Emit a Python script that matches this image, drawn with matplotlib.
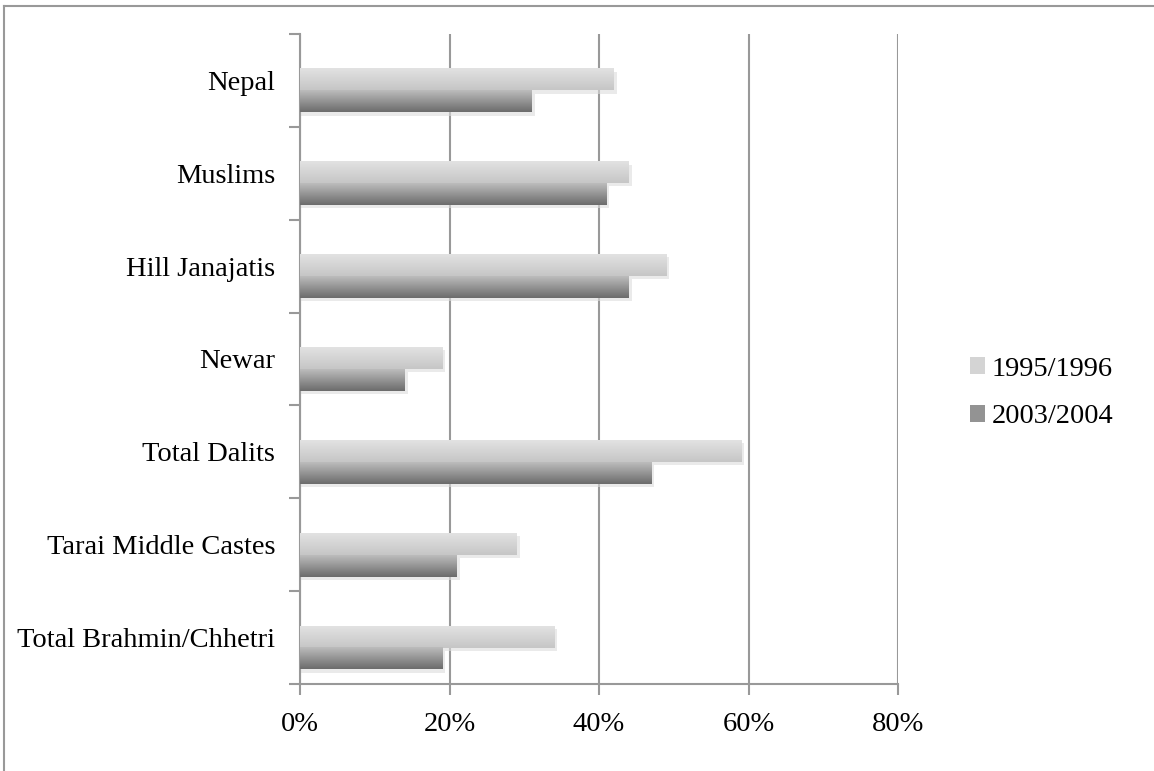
import numpy as np
import matplotlib.pyplot as plt
from matplotlib.patches import Patch
from matplotlib.lines import Line2D

# categories bottom -> top
categories = ["Total Brahmin/Chhetri", "Tarai Middle Castes", "Total Dalits",
              "Newar", "Hill Janajatis", "Muslims", "Nepal"]
y1995 = [34, 29, 59, 19, 49, 44, 42]
y2003 = [19, 21, 47, 14, 44, 41, 31]
series = ["1995/1996", "2003/2004"]
xticks = [0, 20, 40, 60, 80]

plt.rcParams['font.family'] = ['Liberation Serif', 'DejaVu Serif']
fs = 20.5

fig = plt.figure(figsize=(11.54, 7.71), dpi=100)
ax = fig.add_axes([300/1154, 1 - 684/771, 598/1154, 650/771])

grad = np.linspace(0, 1, 50).reshape(-1, 1)
light = plt.cm.colors.LinearSegmentedColormap.from_list("l", ["#c6c6c6", "#e2e2e2"])
dark = plt.cm.colors.LinearSegmentedColormap.from_list("d", ["#6c6c6c", "#bcbcbc"])

h = 0.236
off = -0.107
for i in range(len(categories)):
    for val, c, cm in [(y1995[i], off + h / 2, light), (y2003[i], off - h / 2, dark)]:
        y0, y1 = i + c - h / 2, i + c + h / 2
        # soft shadow
        ax.barh(i + c - 0.035, val + 0.4, height=h, left=0, color="#dcdcdc",
                alpha=0.6, zorder=2, linewidth=0)
        ax.imshow(grad, extent=(0, val, y0, y1), origin="lower", cmap=cm,
                  aspect="auto", zorder=3, interpolation="bilinear")

ax.set_xlim(0, 80)
ax.set_ylim(-0.5, len(categories) - 0.5)
ax.set_xticks(xticks)
ax.set_xticklabels([f"{t}%" for t in xticks])
ax.set_yticks(np.arange(len(categories)))
ax.set_yticklabels(categories)
ax.set_yticks(np.arange(len(categories) + 1) - 0.5, minor=True)
ax.tick_params(axis="y", which="major", length=0, pad=18, labelsize=fs)
ax.tick_params(axis="y", which="minor", length=8, width=1.5, color="#999999", direction="out")
ax.tick_params(axis="x", length=8, width=1.5, color="#999999", direction="out",
               labelsize=fs, pad=12)
ax.grid(axis="x", color="#999999", linewidth=1.5, zorder=1)
ax.set_axisbelow(True)
for s in ["top", "right"]:
    ax.spines[s].set_visible(False)
for s in ["left", "bottom"]:
    ax.spines[s].set_color("#999999")
    ax.spines[s].set_linewidth(1.5)

handles = [Patch(facecolor="#d4d4d4", edgecolor="none"),
           Patch(facecolor="#939393", edgecolor="none")]
fig.legend(handles, series, loc="center left", bbox_to_anchor=(970/1154, 1 - 393/771),
           frameon=False, fontsize=fs, handlelength=0.52, handleheight=0.52,
           handletextpad=0.25, labelspacing=0.8, borderpad=0, borderaxespad=0)

# outer frame
fig.add_artist(Line2D([4/1154, 4/1154], [0, 1 - 6/771], color="#999999", lw=1.5))
fig.add_artist(Line2D([4/1154, 1], [1 - 6/771, 1 - 6/771], color="#999999", lw=1.5))

fig.savefig("out.png", dpi=100)
